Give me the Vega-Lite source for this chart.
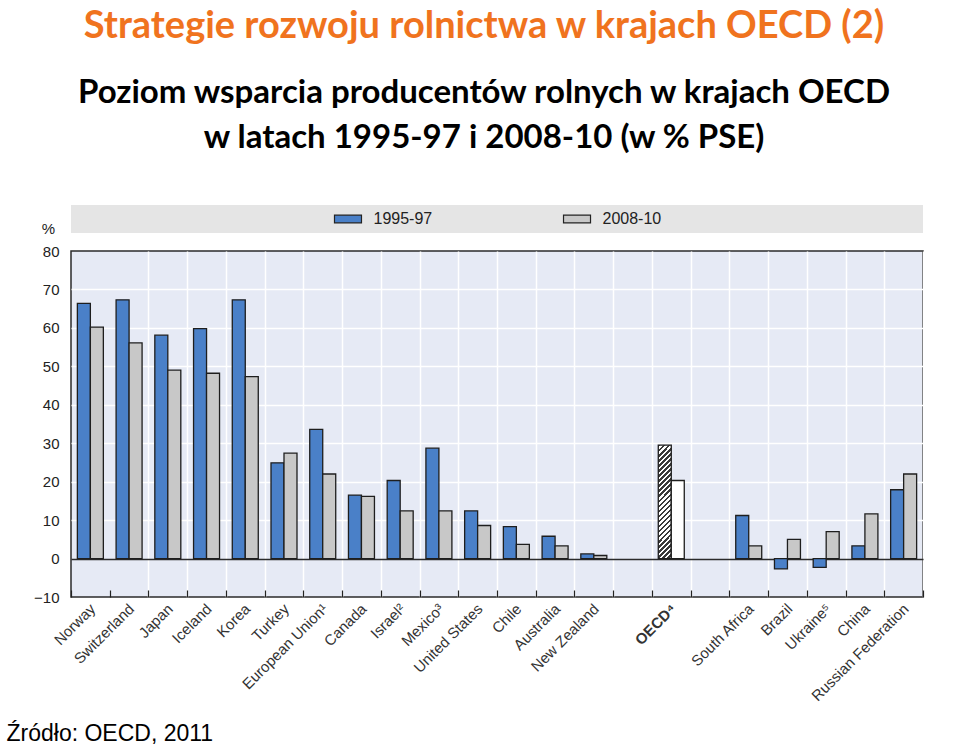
{
  "$schema": "https://vega.github.io/schema/vega-lite/v6.json",
  "padding": {"left": 5, "top": 8, "right": 0, "bottom": 0},
  "background": "white",
  "config": {"font": "Liberation Sans", "axis": {"labelOverlap": false}, "axisY": {"labelOverlap": false}},
  "title": {
    "text": "Strategie rozwoju rolnictwa w krajach OECD (2)",
    "subtitle": ["Poziom wsparcia producentów rolnych w krajach OECD", "w latach 1995-97 i 2008-10 (w % PSE)"],
    "anchor": "middle",
    "frame": "group",
    "font": "Lato",
    "fontSize": 38,
    "fontWeight": "bold",
    "color": "#F0731E",
    "subtitleFont": "Lato",
    "subtitleFontSize": 33,
    "subtitleFontWeight": "bold",
    "subtitleColor": "#000000",
    "subtitlePadding": 31,
    "subtitleLineHeight": 45,
    "offset": 50,
    "dx": -13
  },
  "data": {
    "values": [
      {"country": "Norway", "period": "1995-97", "value": 66.4},
      {"country": "Norway", "period": "2008-10", "value": 60.2},
      {"country": "Switzerland", "period": "1995-97", "value": 67.3},
      {"country": "Switzerland", "period": "2008-10", "value": 56.1},
      {"country": "Japan", "period": "1995-97", "value": 58.1},
      {"country": "Japan", "period": "2008-10", "value": 49.0},
      {"country": "Iceland", "period": "1995-97", "value": 59.8},
      {"country": "Iceland", "period": "2008-10", "value": 48.2},
      {"country": "Korea", "period": "1995-97", "value": 67.3},
      {"country": "Korea", "period": "2008-10", "value": 47.3},
      {"country": "Turkey", "period": "1995-97", "value": 24.9},
      {"country": "Turkey", "period": "2008-10", "value": 27.4},
      {"country": "European Union¹", "period": "1995-97", "value": 33.6},
      {"country": "European Union¹", "period": "2008-10", "value": 22.0},
      {"country": "Canada", "period": "1995-97", "value": 16.5},
      {"country": "Canada", "period": "2008-10", "value": 16.2},
      {"country": "Israel²", "period": "1995-97", "value": 20.3},
      {"country": "Israel²", "period": "2008-10", "value": 12.4},
      {"country": "Mexico³", "period": "1995-97", "value": 28.7},
      {"country": "Mexico³", "period": "2008-10", "value": 12.4},
      {"country": "United States", "period": "1995-97", "value": 12.4},
      {"country": "United States", "period": "2008-10", "value": 8.6},
      {"country": "Chile", "period": "1995-97", "value": 8.3},
      {"country": "Chile", "period": "2008-10", "value": 3.7},
      {"country": "Australia", "period": "1995-97", "value": 5.8},
      {"country": "Australia", "period": "2008-10", "value": 3.3},
      {"country": "New Zealand", "period": "1995-97", "value": 1.2},
      {"country": "New Zealand", "period": "2008-10", "value": 0.8},
      {"country": "OECD⁴", "period": "1995-97", "value": 29.5},
      {"country": "OECD⁴", "period": "2008-10", "value": 20.3},
      {"country": "South Africa", "period": "1995-97", "value": 11.2},
      {"country": "South Africa", "period": "2008-10", "value": 3.3},
      {"country": "Brazil", "period": "1995-97", "value": -2.7},
      {"country": "Brazil", "period": "2008-10", "value": 5.0},
      {"country": "Ukraine⁵", "period": "1995-97", "value": -2.3},
      {"country": "Ukraine⁵", "period": "2008-10", "value": 7.0},
      {"country": "China", "period": "1995-97", "value": 3.3},
      {"country": "China", "period": "2008-10", "value": 11.6},
      {"country": "Russian Federation", "period": "1995-97", "value": 17.9},
      {"country": "Russian Federation", "period": "2008-10", "value": 22.0}
    ]
  },
  "vconcat": [
    {
      "width": 852,
      "height": 28,
      "view": {"fill": "#E5E5E5", "stroke": null},
      "transform": [{"aggregate": [{"op": "count", "as": "n"}], "groupby": ["period"]}],
      "encoding": {
        "x": {"field": "period", "type": "nominal", "scale": {"type": "band", "paddingInner": 0, "paddingOuter": 0.86}, "axis": null}
      },
      "layer": [
        {
          "mark": {"type": "point", "shape": "M-1,-0.28H1V0.28H-1Z", "size": 729, "filled": true, "opacity": 1, "xOffset": -34.5, "stroke": "#222222", "strokeWidth": 1.2},
          "encoding": {
            "color": {"field": "period", "type": "nominal", "scale": {"domain": ["1995-97", "2008-10"], "range": ["#4A80C8", "#C8C8C8"]}, "legend": null},
            "stroke": {"value": "#222222"}
          }
        },
        {
          "mark": {"type": "text", "align": "left", "dx": -9, "fontSize": 16, "color": "#222222"},
          "encoding": {"text": {"field": "period", "type": "nominal"}}
        }
      ]
    },
    {
      "width": 852,
      "height": 346,
      "view": {"fill": "#E6EAF5", "stroke": "#2b2b2b", "strokeWidth": 1.5},
      "encoding": {
        "x": {
          "field": "country",
          "type": "nominal",
          "sort": null,
          "scale": {
            "domain": ["Norway", "Switzerland", "Japan", "Iceland", "Korea", "Turkey", "European Union¹", "Canada", "Israel²", "Mexico³", "United States", "Chile", "Australia", "New Zealand", " ", "OECD⁴", "  ", "South Africa", "Brazil", "Ukraine⁵", "China", "Russian Federation"],
            "paddingInner": 0,
            "paddingOuter": 0
          },
          "axis": {
            "tickBand": "extent",
            "grid": true,
            "gridColor": {"condition": {"test": "datum.index === 0 || datum.index === -1", "value": "transparent"}, "value": "#ffffff"},
            "gridWidth": 1.5,
            "domain": false,
            "ticks": true,
            "tickSize": -7,
            "tickColor": "#222222",
            "tickWidth": 1.2,
            "labelAngle": -45,
            "labelFontSize": 15,
            "labelColor": "#333333",
            "labelPadding": 11,
            "labelOffset": -3,
            "labelOverlap": false,
            "labelFontWeight": {"condition": {"test": "datum.value === 'OECD⁴'", "value": "bold"}, "value": "normal"},
            "title": "Źródło: OECD, 2011",
            "titleX": -65,
            "titleY": 143,
            "titleAlign": "left",
            "titleBaseline": "alphabetic",
            "titleFontSize": 23,
            "titleFontWeight": "normal",
            "titleColor": "#000000"
          }
        },
        "y": {
          "field": "value",
          "type": "quantitative",
          "scale": {"domain": [-10, 80], "nice": false},
          "axis": {
            "values": [-10, 0, 10, 20, 30, 40, 50, 60, 70, 80],
            "labelOverlap": false,
            "grid": true,
            "gridColor": {
              "condition": [
                {"test": "datum.value === 80 || datum.value === -10", "value": "transparent"},
                {"test": "datum.value === 0", "value": "#2b2b2b"}
              ],
              "value": "#ffffff"
            },
            "gridWidth": 1.5,
            "domain": false,
            "ticks": false,
            "labelPadding": 12,
            "labelFontSize": 15,
            "labelColor": "#222222",
            "title": "%",
            "titleAngle": 0,
            "titleX": -23,
            "titleY": -23,
            "titleAlign": "center",
            "titleBaseline": "middle",
            "titleFontSize": 15,
            "titleFontWeight": "normal",
            "titleColor": "#222222"
          }
        },
        "xOffset": {"field": "period", "type": "nominal", "scale": {"paddingOuter": 0.49, "paddingInner": 0}}
      },
      "layer": [
        {
          "transform": [{"filter": "datum.country !== 'OECD⁴'"}],
          "mark": {"type": "bar", "stroke": "#1e1e1e", "strokeWidth": 1.3},
          "encoding": {
            "color": {"field": "period", "type": "nominal", "legend": null}
          }
        },
        {
          "transform": [{"filter": "datum.country === 'OECD⁴' && datum.period === '1995-97'"}],
          "mark": {
            "type": "bar",
            "stroke": "#1e1e1e",
            "strokeWidth": 1.3,
            "fill": {
              "gradient": "linear",
              "x1": 0, "y1": 0, "x2": 0.127, "y2": 1.1,
              "stops": [
                {"offset": 0, "color": "#3a3a3a"}, {"offset": 0.02, "color": "#3a3a3a"}, {"offset": 0.02, "color": "#ffffff"}, {"offset": 0.04, "color": "#ffffff"},
                {"offset": 0.04, "color": "#3a3a3a"}, {"offset": 0.06, "color": "#3a3a3a"}, {"offset": 0.06, "color": "#ffffff"}, {"offset": 0.08, "color": "#ffffff"},
                {"offset": 0.08, "color": "#3a3a3a"}, {"offset": 0.10, "color": "#3a3a3a"}, {"offset": 0.10, "color": "#ffffff"}, {"offset": 0.12, "color": "#ffffff"},
                {"offset": 0.12, "color": "#3a3a3a"}, {"offset": 0.14, "color": "#3a3a3a"}, {"offset": 0.14, "color": "#ffffff"}, {"offset": 0.16, "color": "#ffffff"},
                {"offset": 0.16, "color": "#3a3a3a"}, {"offset": 0.18, "color": "#3a3a3a"}, {"offset": 0.18, "color": "#ffffff"}, {"offset": 0.20, "color": "#ffffff"},
                {"offset": 0.20, "color": "#3a3a3a"}, {"offset": 0.22, "color": "#3a3a3a"}, {"offset": 0.22, "color": "#ffffff"}, {"offset": 0.24, "color": "#ffffff"},
                {"offset": 0.24, "color": "#3a3a3a"}, {"offset": 0.26, "color": "#3a3a3a"}, {"offset": 0.26, "color": "#ffffff"}, {"offset": 0.28, "color": "#ffffff"},
                {"offset": 0.28, "color": "#3a3a3a"}, {"offset": 0.30, "color": "#3a3a3a"}, {"offset": 0.30, "color": "#ffffff"}, {"offset": 0.32, "color": "#ffffff"},
                {"offset": 0.32, "color": "#3a3a3a"}, {"offset": 0.34, "color": "#3a3a3a"}, {"offset": 0.34, "color": "#ffffff"}, {"offset": 0.36, "color": "#ffffff"},
                {"offset": 0.36, "color": "#3a3a3a"}, {"offset": 0.38, "color": "#3a3a3a"}, {"offset": 0.38, "color": "#ffffff"}, {"offset": 0.40, "color": "#ffffff"},
                {"offset": 0.40, "color": "#3a3a3a"}, {"offset": 0.42, "color": "#3a3a3a"}, {"offset": 0.42, "color": "#ffffff"}, {"offset": 0.44, "color": "#ffffff"},
                {"offset": 0.44, "color": "#3a3a3a"}, {"offset": 0.46, "color": "#3a3a3a"}, {"offset": 0.46, "color": "#ffffff"}, {"offset": 0.48, "color": "#ffffff"},
                {"offset": 0.48, "color": "#3a3a3a"}, {"offset": 0.50, "color": "#3a3a3a"}, {"offset": 0.50, "color": "#ffffff"}, {"offset": 0.52, "color": "#ffffff"},
                {"offset": 0.52, "color": "#3a3a3a"}, {"offset": 0.54, "color": "#3a3a3a"}, {"offset": 0.54, "color": "#ffffff"}, {"offset": 0.56, "color": "#ffffff"},
                {"offset": 0.56, "color": "#3a3a3a"}, {"offset": 0.58, "color": "#3a3a3a"}, {"offset": 0.58, "color": "#ffffff"}, {"offset": 0.60, "color": "#ffffff"},
                {"offset": 0.60, "color": "#3a3a3a"}, {"offset": 0.62, "color": "#3a3a3a"}, {"offset": 0.62, "color": "#ffffff"}, {"offset": 0.64, "color": "#ffffff"},
                {"offset": 0.64, "color": "#3a3a3a"}, {"offset": 0.66, "color": "#3a3a3a"}, {"offset": 0.66, "color": "#ffffff"}, {"offset": 0.68, "color": "#ffffff"},
                {"offset": 0.68, "color": "#3a3a3a"}, {"offset": 0.70, "color": "#3a3a3a"}, {"offset": 0.70, "color": "#ffffff"}, {"offset": 0.72, "color": "#ffffff"},
                {"offset": 0.72, "color": "#3a3a3a"}, {"offset": 0.74, "color": "#3a3a3a"}, {"offset": 0.74, "color": "#ffffff"}, {"offset": 0.76, "color": "#ffffff"},
                {"offset": 0.76, "color": "#3a3a3a"}, {"offset": 0.78, "color": "#3a3a3a"}, {"offset": 0.78, "color": "#ffffff"}, {"offset": 0.80, "color": "#ffffff"},
                {"offset": 0.80, "color": "#3a3a3a"}, {"offset": 0.82, "color": "#3a3a3a"}, {"offset": 0.82, "color": "#ffffff"}, {"offset": 0.84, "color": "#ffffff"},
                {"offset": 0.84, "color": "#3a3a3a"}, {"offset": 0.86, "color": "#3a3a3a"}, {"offset": 0.86, "color": "#ffffff"}, {"offset": 0.88, "color": "#ffffff"},
                {"offset": 0.88, "color": "#3a3a3a"}, {"offset": 0.90, "color": "#3a3a3a"}, {"offset": 0.90, "color": "#ffffff"}, {"offset": 0.92, "color": "#ffffff"},
                {"offset": 0.92, "color": "#3a3a3a"}, {"offset": 0.94, "color": "#3a3a3a"}, {"offset": 0.94, "color": "#ffffff"}, {"offset": 0.96, "color": "#ffffff"},
                {"offset": 0.96, "color": "#3a3a3a"}, {"offset": 0.98, "color": "#3a3a3a"}, {"offset": 0.98, "color": "#ffffff"}, {"offset": 1, "color": "#ffffff"}
              ]
            }
          }
        },
        {
          "transform": [{"filter": "datum.country === 'OECD⁴' && datum.period === '2008-10'"}],
          "mark": {"type": "bar", "stroke": "#1e1e1e", "strokeWidth": 1.3, "fill": "#ffffff"}
        }
      ]
    }
  ],
  "spacing": 18,
  "bounds": "flush",
  "resolve": {"scale": {"x": "independent", "y": "independent", "xOffset": "independent", "color": "shared"}}
}
